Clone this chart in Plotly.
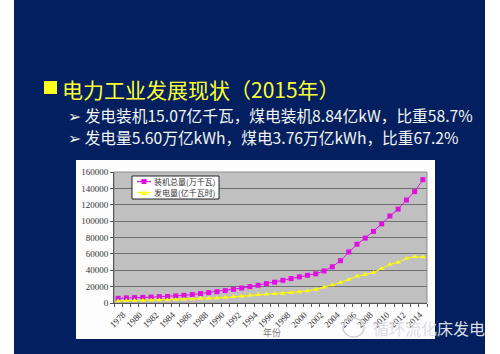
import plotly.graph_objects as go

years = ["1978", "1979", "1980", "1981", "1982", "1983", "1984", "1985", "1986", "1987",
         "1988", "1989", "1990", "1991", "1992", "1993", "1994", "1995", "1996", "1997",
         "1998", "1999", "2000", "2001", "2002", "2003", "2004", "2005", "2006", "2007",
         "2008", "2009", "2010", "2011", "2012", "2013", "2014", "2015"]
tick_labels = ["1978", "", "1980", "", "1982", "", "1984", "", "1986", "",
               "1988", "", "1990", "", "1992", "", "1994", "", "1996", "",
               "1998", "", "2000", "", "2002", "", "2004", "", "2006", "",
               "2008", "", "2010", "", "2012", "", "2014", ""]

# 装机总量(万千瓦)
capacity = [5712, 6302, 6587, 6913, 7236, 7644, 8012, 8705, 9382, 10290,
            11550, 12664, 13789, 15147, 16653, 18291, 19990, 21722, 23654, 25424,
            27729, 29877, 31932, 33849, 35657, 39141, 44239, 51718, 62370, 71822,
            79273, 87410, 96641, 106253, 114676, 125768, 136019, 150673]
# 发电量(亿千瓦时)
generation = [2566, 2820, 3006, 3093, 3277, 3514, 3770, 4107, 4495, 4973,
              5452, 5848, 6212, 6775, 7539, 8395, 9281, 10070, 10813, 11356,
              11670, 12393, 13556, 14808, 16540, 19106, 22033, 25003, 28657, 32816,
              34669, 37147, 42072, 47130, 49876, 54316, 56495, 56045]

name_cap = "装机总量(万千瓦)"
name_gen = "发电量(亿千瓦时)"
title_text = "电力工业发展现状（2015年）"
line1 = "➢ 发电装机15.07亿千瓦，煤电装机8.84亿kW，比重58.7%"
line2 = "➢ 发电量5.60万亿kWh，煤电3.76万亿kWh，比重67.2%"
xtitle = "年份"
watermark = "循环流化床发电"

W, H = 500, 354
L, R, T, B = 114, 427, 172, 303


def px(X):
    return (X - L) / (R - L)


def py(Y):
    return (B - Y) / (B - T)


MAG = "#e010e0"
YEL = "#ffff00"
CJK = "Noto Sans CJK SC, DejaVu Sans, sans-serif"
SERIF = "Liberation Serif, DejaVu Serif, serif"

fig = go.Figure()
fig.add_trace(go.Scatter(x=years, y=capacity, name=name_cap, mode="lines+markers",
                         line=dict(color=MAG, width=1),
                         marker=dict(symbol="square", size=5, color=MAG)))
fig.add_trace(go.Scatter(x=years, y=generation, name=name_gen, mode="lines+markers",
                         line=dict(color=YEL, width=1),
                         marker=dict(symbol="triangle-up", size=5, color=YEL)))

shapes = [
    dict(type="rect", xref="paper", yref="paper", layer="below",
         x0=px(14), x1=px(485), y0=py(354), y1=py(0),
         fillcolor="#02205f", line=dict(width=0)),
    dict(type="rect", xref="paper", yref="paper", layer="below",
         x0=px(76), x1=px(435), y0=py(339), y1=py(160),
         fillcolor="#fdfdfd", line=dict(width=0)),
    dict(type="rect", xref="paper", yref="paper", layer="below",
         x0=0, x1=1, y0=0, y1=1,
         fillcolor="#c0c0c0", line=dict(color="#909090", width=1)),
    dict(type="rect", xref="paper", yref="paper", layer="above",
         x0=px(44), x1=px(57), y0=py(94), y1=py(81),
         fillcolor="#ffff1a", line=dict(width=0)),
    # legend box
    dict(type="rect", xref="paper", yref="paper", layer="above",
         x0=px(132), x1=px(219), y0=py(199), y1=py(176),
         fillcolor="#ffffff", line=dict(color="#222222", width=1)),
    dict(type="line", xref="paper", yref="paper", layer="above",
         x0=px(137), x1=px(151), y0=py(181.5), y1=py(181.5),
         line=dict(color=MAG, width=1.2)),
    dict(type="rect", xref="paper", yref="paper", layer="above",
         x0=px(141.5), x1=px(146.5), y0=py(184), y1=py(179),
         fillcolor=MAG, line=dict(width=0)),
    dict(type="line", xref="paper", yref="paper", layer="above",
         x0=px(137), x1=px(151), y0=py(192.5), y1=py(192.5),
         line=dict(color=YEL, width=1.2)),
    dict(type="path", xref="paper", yref="paper", layer="above",
         path=f"M {px(141)} {py(195)} L {px(147)} {py(195)} L {px(144)} {py(190)} Z",
         fillcolor=YEL, line=dict(width=0)),
    # watermark icon
    dict(type="circle", xref="paper", yref="paper", layer="above",
         x0=px(343), x1=px(364), y0=py(337), y1=py(318),
         fillcolor="rgba(0,0,0,0)", line=dict(color="#d0d0d4", width=1.5)),
]

annotations = [
    dict(text=title_text, x=px(60), y=py(89), xref="paper", yref="paper",
         xanchor="left", yanchor="middle", showarrow=False,
         font=dict(family=CJK, size=21, color="#ffff33")),
    dict(text=line1, x=px(66), y=py(115), xref="paper", yref="paper",
         xanchor="left", yanchor="middle", showarrow=False,
         font=dict(family=CJK, size=15.7, color="#f4f4f4")),
    dict(text=line2, x=px(66), y=py(137), xref="paper", yref="paper",
         xanchor="left", yanchor="middle", showarrow=False,
         font=dict(family=CJK, size=15.7, color="#f4f4f4")),
    dict(text=name_cap, x=px(152), y=py(181.5), xref="paper", yref="paper",
         xanchor="left", yanchor="middle", showarrow=False,
         font=dict(family=CJK, size=8, color="#333333")),
    dict(text=name_gen, x=px(152), y=py(192.5), xref="paper", yref="paper",
         xanchor="left", yanchor="middle", showarrow=False,
         font=dict(family=CJK, size=8, color="#333333")),
    dict(text=xtitle, x=px(272), y=py(332), xref="paper", yref="paper",
         xanchor="center", yanchor="middle", showarrow=False,
         font=dict(family=CJK, size=9, color="#777777")),
    dict(text=watermark, x=px(371), y=py(328), xref="paper", yref="paper",
         xanchor="left", yanchor="middle", showarrow=False,
         font=dict(family=CJK, size=16, color="#dcdce4")),
]

fig.update_layout(
    width=W, height=H, autosize=False,
    margin=dict(l=L, r=W - R, t=T, b=H - B, pad=0),
    paper_bgcolor="#ffffff",
    plot_bgcolor="rgba(0,0,0,0)",
    showlegend=False,
    shapes=shapes,
    annotations=annotations,
    xaxis=dict(type="category", tickmode="array", tickvals=years, ticktext=tick_labels,
               tickangle=-45, ticks="outside", ticklen=3, tickcolor="#555555",
               tickson="boundaries", showgrid=False, showline=True, linecolor="#555555",
               linewidth=1, tickfont=dict(family=SERIF, size=9, color="#333333"),
               ticklabelshift=5, ticklabelstandoff=2,
               range=[-0.5, len(years) - 0.5], fixedrange=True),
    yaxis=dict(range=[0, 160000], dtick=20000, tickformat="d",
               showgrid=True, gridcolor="#707070", gridwidth=1.3, zeroline=False,
               showline=True, linecolor="#555555", linewidth=1,
               ticks="outside", ticklen=3, tickcolor="#555555",
               tickfont=dict(family=SERIF, size=9, color="#333333"), fixedrange=True),
)

fig.write_html("out.html")
